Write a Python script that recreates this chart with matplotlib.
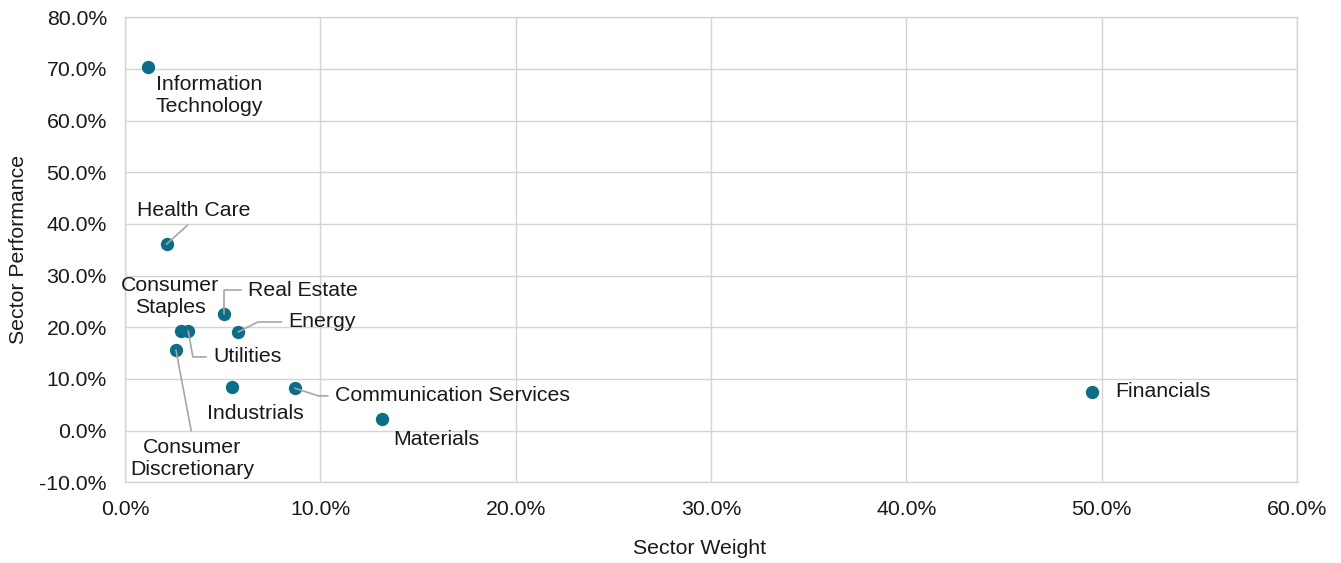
import matplotlib
matplotlib.use("Agg")
import matplotlib.pyplot as plt
from matplotlib.ticker import PercentFormatter

plt.rcParams['font.family'] = ['Liberation Sans', 'DejaVu Sans']
plt.rcParams['axes.unicode_minus'] = False

# sector weight (%) vs sector performance (%)
sectors = ['Information\nTechnology', 'Health Care', 'Consumer\nStaples', 'Utilities',
           'Consumer\nDiscretionary', 'Real Estate', 'Energy', 'Industrials',
           'Communication Services', 'Materials', 'Financials']
weight = [1.19, 2.13, 2.86, 3.24, 2.61, 5.07, 5.80, 5.46, 8.70, 13.16, 49.5]
performance = [70.3, 36.1, 19.3, 19.3, 15.6, 22.5, 19.1, 8.5, 8.2, 2.2, 7.5]

# label placement: offset in points, leader style (None = no leader line)
label_layout = {
    'Information\nTechnology': ((44, -20), None),
    'Health Care': ((19.5, 24.5), ('straight', (0.5, 0), None)),
    'Consumer\nStaples': ((-7.7, 25), None),
    'Utilities': ((42.4, -18.7), ('angle', (0, 0.5), -80)),
    'Consumer\nDiscretionary': ((11.9, -77.8), ('straight', (0.5, 1), None)),
    'Real Estate': ((56.5, 17.5), ('angle', (0, 0.5), 90)),
    'Energy': ((60.5, 7.2), ('angle', (0, 0.5), 27)),
    'Industrials': ((16.8, -19.2), None),
    'Communication Services': ((113.4, -5.5), ('angle', (0, 0.5), -18)),
    'Materials': ((38.9, -14.4), None),
    'Financials': ((51, 0), None),
}

teal = '#0E6D86'
grid = '#D4D4D4'
txt = '#1A1A1A'
fs = 15.3

fig = plt.figure(figsize=(13.41, 5.63), dpi=100)
ax = fig.add_axes([0.0932, 0.1433, 0.874, 0.826])

ax.scatter(weight, performance, s=92, color=teal, zorder=3, linewidths=0)

for name, x, y in zip(sectors, weight, performance):
    offset, leader = label_layout[name]
    arrow = None
    if leader is not None:
        kind, relpos, angB = leader
        if kind == 'straight':
            cs = 'arc3,rad=0'
        else:
            cs = 'angle,angleA=0,angleB=%g,rad=0' % angB
        arrow = dict(arrowstyle='-', color='#A6A6A6', lw=1.2, relpos=relpos,
                     connectionstyle=cs, shrinkA=3, shrinkB=0)
    ax.annotate(name, (x, y), xytext=offset, textcoords='offset points',
                ha='center', va='center', multialignment='center',
                fontsize=fs, color=txt, arrowprops=arrow, zorder=4)

ax.set_xlim(0, 60)
ax.set_ylim(-10, 80)
ax.set_xticks(range(0, 61, 10))
ax.set_yticks(range(-10, 81, 10))
ax.xaxis.set_major_formatter(PercentFormatter(decimals=1))
ax.yaxis.set_major_formatter(PercentFormatter(decimals=1))
ax.tick_params(length=0, labelsize=fs, labelcolor=txt)
ax.tick_params(axis='x', pad=13)
ax.tick_params(axis='y', pad=13)
ax.grid(True, color=grid, lw=1.0)
ax.set_axisbelow(True)
for sp in ax.spines.values():
    sp.set_color(grid)
    sp.set_linewidth(1.0)

fig.text(700 / 1341, 1 - 549 / 563, 'Sector Weight', ha='center', va='center',
         fontsize=fs, color=txt)
fig.text(19 / 1341, 1 - 249 / 563, 'Sector Performance', ha='center', va='center',
         rotation=90, fontsize=fs, color=txt)

fig.savefig('out.png', dpi=100)
